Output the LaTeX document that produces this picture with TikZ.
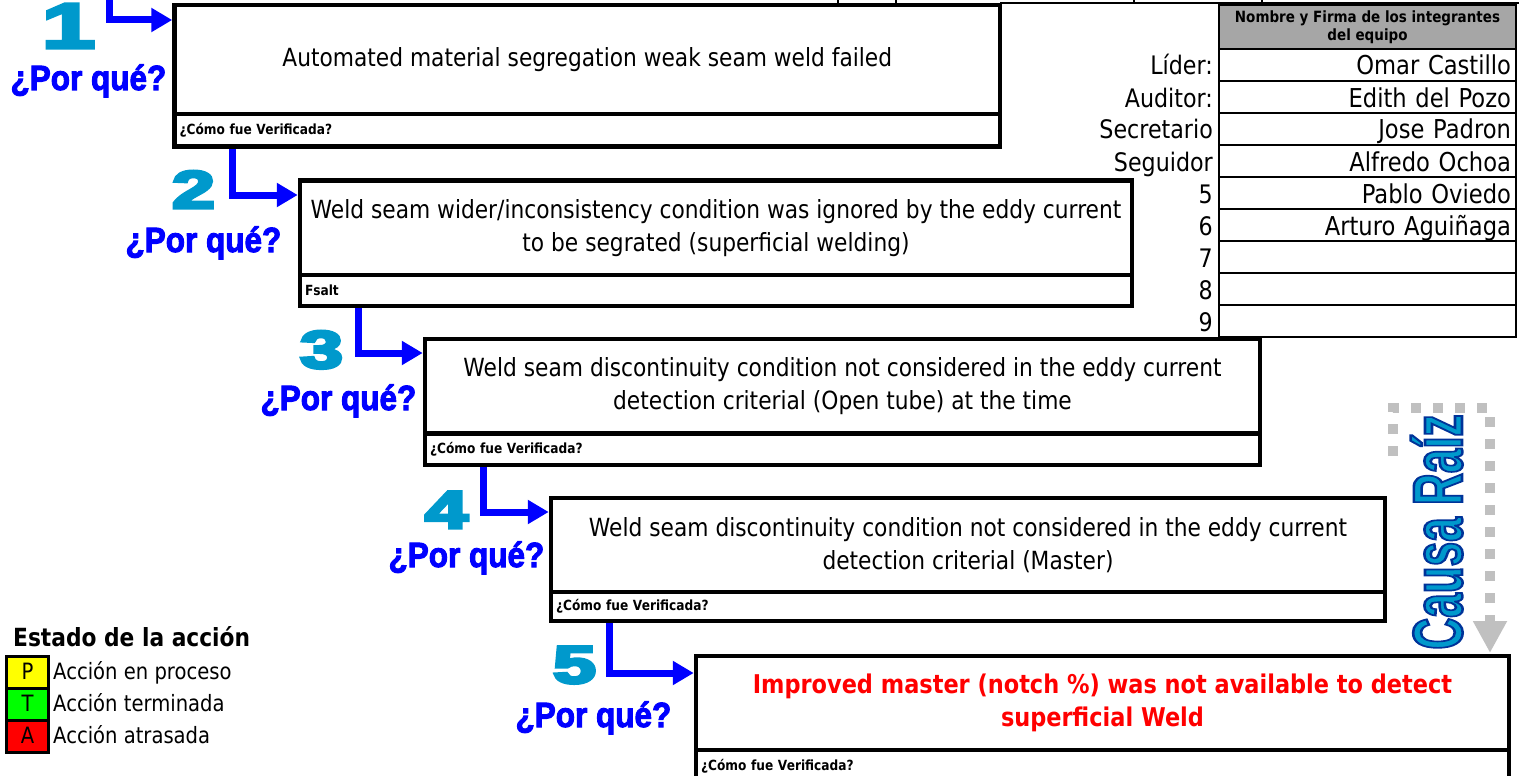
\documentclass[tikz,border=0pt]{standalone}
\usepackage{fontspec}
\setmainfont{DejaVu Sans}[FakeStretch=0.87]
\newfontfamily\arialfont{Liberation Sans}
\usetikzlibrary{arrows.meta,calc}
\definecolor{whyblue}{RGB}{0,0,255}
\definecolor{digitteal}{RGB}{0,153,204}
\definecolor{hdrgray}{RGB}{166,166,166}
\definecolor{dotgray}{RGB}{192,192,192}
\definecolor{lyellow}{RGB}{255,255,0}
\definecolor{lgreen}{RGB}{0,255,0}
\definecolor{lred}{RGB}{255,0,0}
\newcommand{\fsz}[2]{\fontsize{#1pt}{#2pt}\selectfont}
% fill + stroke text: #1 stroke rgb, #2 stroke width, #3 text
\newcommand{\heavytext}[3]{\special{pdf:literal direct 2 Tr #2 w #1 RG}#3\special{pdf:literal direct 0 Tr}}
\begin{document}
\begin{tikzpicture}[x=1pt,y=-1pt,
  whybox/.style={draw, line width=4.5pt, inner sep=0pt, align=center, font=\fsz{25}{33}},
  verbox/.style={draw, line width=4.5pt, inner xsep=5pt, inner ysep=0pt, align=left, font=\bfseries\fsz{14}{16}},
  whyarrow/.style={draw=whyblue, line width=7pt, -{Triangle[length=21pt,width=23pt]}},
  digit/.style={anchor=base, text=digitteal, font=\arialfont\bfseries\fsz{53}{60}},
  porque/.style={anchor=base west, text=whyblue, font=\arialfont\bfseries\fsz{35}{40}},
  namecell/.style={draw, line width=2.5pt, minimum width=297pt, minimum height=32pt, inner xsep=5pt, inner ysep=0pt, text width=287pt, align=right, text height=22pt, text depth=2pt, font=\fsz{26}{30}},
  rolelab/.style={anchor=east, inner sep=0pt, text height=22pt, text depth=2pt, font=\fsz{25.5}{30}},
  lcell/.style={draw, line width=3pt, minimum width=42pt, minimum height=32pt, inner sep=0pt, text height=17pt, text depth=3pt, font=\fsz{22.5}{26}},
  litem/.style={anchor=west, inner sep=0pt, text height=17pt, text depth=3pt, font=\fsz{22.5}{26}}
]
\useasboundingbox (0,0) rectangle (1519,776);

% remnants of the sheet cells at the top edge
\draw[line width=1.5pt] (838,0) -- (838,5) (896,0) -- (896,5) (1000,3) -- (1519,3) (1134,0) -- (1134,3) (1262,0) -- (1262,3);

% why boxes
\node[whybox, minimum width=825.5pt, minimum height=109pt] (b1) at (587.25,59.5) {Automated material segregation weak seam weld failed};
\node[verbox, minimum width=825.5pt, minimum height=32.5pt, text width=815.5pt] (v1) at (587.25,130.25) {¿Cómo fue Verificada?};

\node[whybox, minimum width=832pt, minimum height=94.5pt] (b2) at (716,227.75) {Weld seam wider/inconsistency condition was ignored by the eddy current\\to be segrated (superficial welding)};
\node[verbox, minimum width=832pt, minimum height=31pt, text width=822pt] (v2) at (716,290.5) {Fsalt};

\node[whybox, minimum width=835pt, minimum height=94.5pt] (b3) at (842.5,386.25) {Weld seam discontinuity condition not considered in the eddy current\\detection criterial (Open tube) at the time};
\node[verbox, minimum width=835pt, minimum height=31.5pt, text width=825pt] (v3) at (842.5,449.25) {¿Cómo fue Verificada?};

\node[whybox, minimum width=834pt, minimum height=94pt] (b4) at (968,545) {Weld seam discontinuity condition not considered in the eddy current\\detection criterial (Master)};
\node[verbox, minimum width=834pt, minimum height=29pt, text width=824pt] (v4) at (968,606.5) {¿Cómo fue Verificada?};

\node[whybox, minimum width=813pt, minimum height=94pt, text=red, font=\bfseries\fsz{25.8}{33}] (b5) at (1102.5,703) {Improved master (notch \%) was not available to detect\\superficial Weld};
\node[verbox, minimum width=813pt, minimum height=32pt, text width=803pt] (v5) at (1102.5,766) {¿Cómo fue Verificada?};

% connectors
\coordinate (a1top) at (109,-5);
\draw[whyarrow] (a1top) |- ($(b1.north west)+(0,17.25)$);
\draw[whyarrow] ($(v1.south west)+(60.5,0)$) |- ($(b2.north west)+(0,16.75)$);
\draw[whyarrow] ($(v2.south west)+(60.5,0)$) |- ($(b3.north west)+(0,16.25)$);
\draw[whyarrow] ($(v3.south west)+(60.5,0)$) |- ($(b4.north west)+(0,16.25)$);
\draw[whyarrow] ($(v4.south west)+(60.5,0)$) |- ($(b5.north west)+(0,19.25)$);

% step numbers
\node[digit, font=\arialfont\bfseries\fsz{64}{70}] (n1) at (68.5,48) {\scalebox{1.5}[1]{\heavytext{0 0.6 0.8}{3}{1}}};
\node[digit] (n2) at (193.5,208) {\scalebox{1.45}[1]{\heavytext{0 0.6 0.8}{3}{2}}};
\node[digit] (n3) at (321.5,368) {\scalebox{1.45}[1]{\heavytext{0 0.6 0.8}{3}{3}}};
\node[digit] (n4) at (446.5,528) {\scalebox{1.45}[1]{\heavytext{0 0.6 0.8}{3}{4}}};
\node[digit] (n5) at (574.5,683) {\scalebox{1.45}[1]{\heavytext{0 0.6 0.8}{3}{5}}};

% por que labels
\node[porque] (p1) at (7,90) {\scalebox{0.9}[1]{\heavytext{0 0 1}{1}{¿Por qué?}}};
\node[porque] (p2) at (122,252) {\scalebox{0.9}[1]{\heavytext{0 0 1}{1}{¿Por qué?}}};
\node[porque] (p3) at (257,410) {\scalebox{0.9}[1]{\heavytext{0 0 1}{1}{¿Por qué?}}};
\node[porque] (p4) at (385,567) {\scalebox{0.9}[1]{\heavytext{0 0 1}{1}{¿Por qué?}}};
\node[porque] (p5) at (512,727) {\scalebox{0.9}[1]{\heavytext{0 0 1}{1}{¿Por qué?}}};

% team table
\node[draw, line width=2.5pt, fill=hdrgray, minimum width=297pt, minimum height=44pt, inner sep=0pt, align=center, font=\bfseries\fsz{15.5}{18}] (th) at (1367.5,27) {Nombre y Firma de los integrantes\\del equipo};
\foreach \i/\lab/\nm in {1/Líder:/Omar Castillo, 2/Auditor:/Edith del Pozo, 3/Secretario/Jose Padron, 4/Seguidor/Alfredo Ochoa, 5/5/Pablo Oviedo, 6/6/Arturo Aguiñaga, 7/7/, 8/8/, 9/9/}{
  \node[namecell] (tn\i) at (1367.5,{33+32*\i}) {\nm};
  \node[rolelab] (tl\i) at (1213,{33+32*\i}) {\lab};
}

% root cause marker
\coordinate (d0) at (1393,456);
\coordinate (d1) at (1393,408);
\coordinate (d2) at (1490,408);
\coordinate (d3) at (1490,653);
\draw[dotgray, line width=10pt, dash pattern=on 10pt off 12pt, -{Triangle[length=32pt,width=32pt]}] (d0) -- (d1) -- (d2) -- (d3);
\node[rotate=90, anchor=base, inner sep=0pt, text=digitteal, font=\arialfont\bfseries\fsz{70}{80}] (cr) at (1462,532) {\scalebox{0.63}[1]{\heavytext{0 0.2 0.6}{2.6}{Causa Raíz}}};

% legend
\node[anchor=base west, inner sep=0pt, font=\bfseries\fsz{25}{29}] (lt) at (13,646) {Estado de la acción};
\node[lcell, fill=lyellow] (lp) at (27.5,672.5) {P};
\node[lcell, fill=lgreen] (ltm) at (27.5,704.5) {T};
\node[lcell, fill=lred] (la) at (27.5,736.5) {A};
\node[litem] (lpt) at (53,672.5) {Acción en proceso};
\node[litem] (ltt) at (53,704.5) {Acción terminada};
\node[litem] (lat) at (53,736.5) {Acción atrasada};
\end{tikzpicture}
\end{document}
